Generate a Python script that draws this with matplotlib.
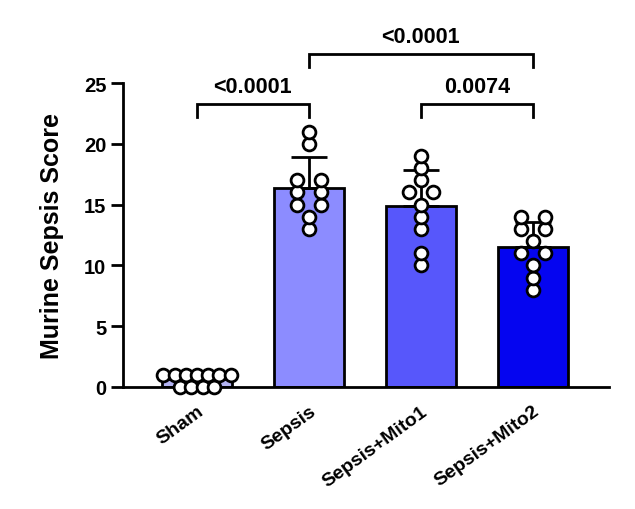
import numpy as np
import matplotlib
matplotlib.use("Agg")
import matplotlib.pyplot as plt

plt.rcParams['font.family'] = ['Liberation Sans', 'DejaVu Sans']
plt.rcParams['font.weight'] = 'bold'

categories = ["Sham", "Sepsis", "Sepsis+Mito1", "Sepsis+Mito2"]
sham = [1, 1, 1, 1, 1, 1, 1, 0, 0, 0, 0]
sepsis = [21, 20, 17, 17, 16, 16, 15, 15, 14, 13]
mito1 = [19, 18, 17, 16, 16, 15, 14, 13, 11, 10]
mito2 = [14, 14, 13, 13, 12, 11, 11, 10, 9, 8]
groups = [sham, sepsis, mito1, mito2]
colors = ["#b3b3f2", "#8c8cff", "#5757fb", "#0505f0"]
comparisons = [(0, 1, "<0.0001", 22.2, 23.3),
               (2, 3, "0.0074", 22.2, 23.3),
               (1, 3, "<0.0001", 26.3, 27.4)]
yticks = [0, 5, 10, 15, 20, 25]

fig = plt.figure(figsize=(6.35, 5.10), dpi=100)
ax = fig.add_axes([123/635, 1-388/510, (609-123)/635, (388-84)/510])

x = np.arange(len(categories))
means = [np.mean(g) for g in groups]
sds = [np.std(g, ddof=1) for g in groups]
ax.bar(x, means, width=0.63, color=colors, edgecolor='black', linewidth=2, zorder=2)
for xi, m, s in zip(x, means, sds):
    ax.errorbar([xi], [m], yerr=[[0], [s]], fmt='none', ecolor='black',
                elinewidth=2, capsize=13, capthick=2, zorder=3)

# beeswarm-like placement
for xi, g in zip(x, groups):
    vals = np.array(g, dtype=float)
    for v in np.unique(vals):
        k = int(np.sum(vals == v))
        step = 0.21 if k <= 2 else 0.1
        offs = (np.arange(k) - (k - 1) / 2) * step
        ax.scatter(xi + offs, [v] * k, s=85, facecolor='white', edgecolor='black',
                   linewidth=2, zorder=4, clip_on=False)

ax.set_xlim(-0.66, 3.68)
ax.set_ylim(0, 25)
ax.set_yticks(yticks)
ax.set_yticklabels([str(t) for t in yticks], fontsize=14.5, fontweight='bold')
ax.set_xticks(x)
ax.set_xticklabels(categories, rotation=36, ha='right', rotation_mode='anchor',
                   fontsize=14, fontweight='bold')
ax.tick_params(axis='x', length=0, pad=11)
ax.tick_params(axis='y', length=9, width=2, pad=3)
for sp in ['top', 'right']:
    ax.spines[sp].set_visible(False)
for sp in ['left', 'bottom']:
    ax.spines[sp].set_linewidth(2)
ax.set_ylabel("Murine Sepsis Score", fontsize=18, fontweight='bold', labelpad=14)

for a, b, txt, ylow, yhigh in comparisons:
    ax.plot([a, a, b, b], [ylow, yhigh, yhigh, ylow], color='black', lw=2,
            clip_on=False, solid_joinstyle='miter')
    ax.text((a + b) / 2, yhigh + 0.55, txt, ha='center', va='bottom',
            fontsize=15.5, fontweight='bold')

fig.savefig("out.png", dpi=100)
